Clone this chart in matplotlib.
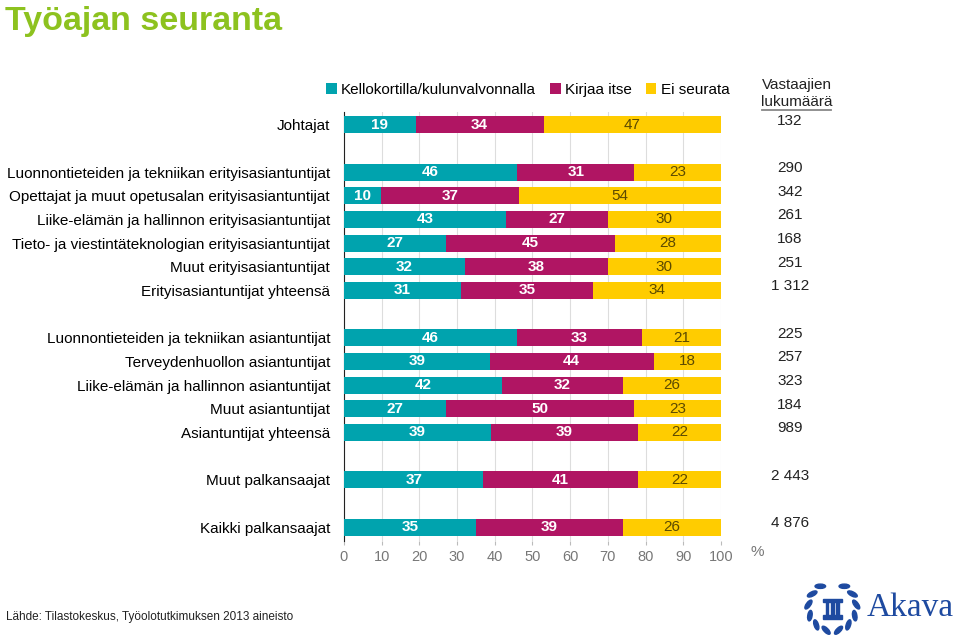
import numpy as np
import matplotlib.pyplot as plt
from matplotlib.patches import Ellipse, Rectangle

plt.rcParams['font.family'] = ['Liberation Sans', 'DejaVu Sans']

categories = [
    "Johtajat",
    "Luonnontieteiden ja tekniikan erityisasiantuntijat",
    "Opettajat ja muut opetusalan erityisasiantuntijat",
    "Liike-elämän ja hallinnon erityisasiantuntijat",
    "Tieto- ja viestintäteknologian erityisasiantuntijat",
    "Muut erityisasiantuntijat",
    "Erityisasiantuntijat yhteensä",
    "Luonnontieteiden ja tekniikan asiantuntijat",
    "Terveydenhuollon asiantuntijat",
    "Liike-elämän ja hallinnon asiantuntijat",
    "Muut asiantuntijat",
    "Asiantuntijat yhteensä",
    "Muut palkansaajat",
    "Kaikki palkansaajat",
]
# row positions (gaps between groups)
positions = [0, 2, 3, 4, 5, 6, 7, 9, 10, 11, 12, 13, 15, 17]

kellokortti = [19, 46, 10, 43, 27, 32, 31, 46, 39, 42, 27, 39, 37, 35]
kirjaa = [34, 31, 37, 27, 45, 38, 35, 33, 44, 32, 50, 39, 41, 39]
ei_seurata = [47, 23, 54, 30, 28, 30, 34, 21, 18, 26, 23, 22, 22, 26]
counts = ["132", "290", "342", "261", "168", "251", "1 312",
          "225", "257", "323", "184", "989", "2 443", "4 876"]

series = [("Kellokortilla/kulunvalvonnalla", kellokortti, "#00A3AE", "white"),
          ("Kirjaa itse", kirjaa, "#B01563", "white"),
          ("Ei seurata", ei_seurata, "#FFCC00", "#5C4A00")]

fig = plt.figure(figsize=(9.6, 6.39), dpi=100)
ax = fig.add_axes([0.3583, 0.153, 0.3927, 0.672])

pos = np.array(positions)
totals = np.array(kellokortti) + np.array(kirjaa) + np.array(ei_seurata)
left = np.zeros(len(pos))
for name, vals, col, tcol in series:
    w = np.array(vals) / totals * 100
    ax.barh(pos, w, left=left, height=0.72, color=col, label=name, zorder=3)
    for y, l, ww, v in zip(pos, left, w, vals):
        ax.text(l + ww / 2, y, str(v), ha="center", va="center",
                color=tcol, fontsize=11, fontweight="bold" if tcol == "white" else "normal",
                zorder=4)
    left += w

ax.set_xlim(0, 100)
ax.set_ylim(17.6, -0.55)
ax.set_xticks(range(0, 101, 10))
ax.tick_params(axis="x", colors="#BBBBBB", labelcolor="#777777", labelsize=10.5, length=3)
ax.set_yticks(pos)
ax.set_yticklabels(categories, fontsize=11)
ax.tick_params(axis="y", length=0, pad=10)
ax.grid(axis="x", color="#DDDDDD", linewidth=0.8, zorder=0)
for s in ["top", "right", "bottom"]:
    ax.spines[s].set_visible(False)
ax.spines["left"].set_color("#222222")
ax.text(109.5, 18.05, "%", color="#777777", fontsize=11, ha="center", va="center")

# counts column
for y, c in zip(pos, counts):
    ax.text(118.3, y - 0.17, c, ha="center", va="center", fontsize=11, color="#222222")
ax.text(120.2, -1.68, "Vastaajien", ha="center", va="center", fontsize=11, color="#222222")
ax.text(120.2, -0.97, "lukumäärä", ha="center", va="center", fontsize=11, color="#222222")
ax.plot([111.0, 129.2], [-0.63, -0.63], color="#888888", lw=1.3, clip_on=False)

ax.legend(loc="center left", bbox_to_anchor=(-0.048, 1.051), ncol=3, frameon=False,
          fontsize=11, handlelength=0.7, handleheight=0.7, handletextpad=0.3,
          columnspacing=0.9, borderaxespad=0, borderpad=0)

fig.text(0.005, 0.99, "Työajan seuranta", color="#8DC21F", fontsize=24.5,
         fontweight="bold", va="top", ha="left")
fig.text(0.006, 0.034, "Lähde: Tilastokeskus, Työolotutkimuksen 2013 aineisto",
         fontsize=8.5, color="#222222", va="center")

# logo
lax = fig.add_axes([0.835, 0.0, 0.165, 0.1])
lax.set_xlim(0, 165)
lax.set_ylim(0, 64)
lax.set_aspect("equal")
lax.axis("off")
blue = "#1E4AA0"
cx, cy, r = 32, 32, 25
for side in (-1, 1):
    for a in np.linspace(-75, 60, 6):
        t = np.radians(a)
        x = cx + side * r * np.cos(t)
        y = cy + r * np.sin(t)
        lax.add_patch(Ellipse((x, y), 11, 4.5, angle=side * (a + 120),
                              color=blue))
lax.add_patch(Rectangle((22, 37), 20, 3.5, color=blue))
lax.add_patch(Rectangle((22, 20), 20, 3.5, color=blue))
for x in (25, 30.5, 36):
    lax.add_patch(Rectangle((x, 23.5), 3, 13.5, color=blue))
lax.text(68, 31, "Akava", fontsize=24, color=blue, family="Liberation Serif",
         va="center", ha="left")

fig.savefig("out.png", dpi=100)
